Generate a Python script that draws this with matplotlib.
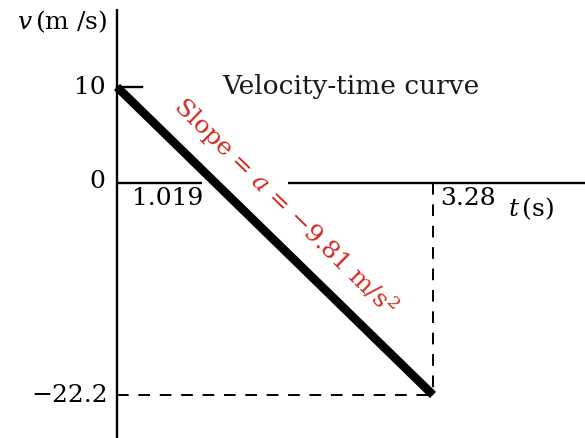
import numpy as np
import matplotlib
matplotlib.use("Agg")
import matplotlib.pyplot as plt

# Motion data: velocity falls linearly under gravity
t_points = [0.0, 3.28]
v_points = [10.0, -22.2]
t_zero = 1.019
accel = -9.81

plt.rcParams["font.family"] = ["DejaVu Serif"]
plt.rcParams["mathtext.fontset"] = "dejavuserif"

W, H = 585, 439
fig = plt.figure(figsize=(W / 100, H / 100), dpi=100)
ax = fig.add_axes([0, 0, 1, 1])
ax.set_xlim(-1.2145, 4.858)
ax.set_ylim(-26.70, 19.20)
ax.axis("off")

# pixel scale helpers (for keeping gaps/offsets in data units)
px_t = (4.858 + 1.2145) / W
px_v = (19.20 + 26.70) / H

# vertical axis
ax.plot([0, 0], [-26.70, 18.15], color="black", lw=1.7, solid_capstyle="butt")
# horizontal axis with gap where the label crosses
ax.plot([0, 0.88], [0, 0], color="black", lw=1.7, solid_capstyle="butt")
ax.plot([1.775, 4.858], [0, 0], color="black", lw=1.7, solid_capstyle="butt")
# tick at v = 10
ax.plot([0, 0.26], [v_points[0], v_points[0]], color="black", lw=1.7)

# dashed guides to the final point
ax.plot([t_points[1], t_points[1]], [0, v_points[1]], color="black", lw=1.4,
        dashes=(6, 5))
ax.plot([0, t_points[1]], [v_points[1], v_points[1]], color="black", lw=1.4,
        dashes=(6, 5))

# velocity-time line
ax.plot(t_points, v_points, color="black", lw=6.2, solid_capstyle="butt")

fs = 18
ax.text(-0.12, v_points[0], "10", ha="right", va="center", fontsize=fs)
ax.text(-0.12, 0.2, "0", ha="right", va="center", fontsize=fs)
ax.text(-0.09, v_points[1], "\u221222.2", ha="right", va="center", fontsize=fs)
ax.text(0.16, -0.3, f"{t_zero:.3f}", ha="left", va="top", fontsize=fs)
ax.text(t_points[1] + 0.07, -0.3, f"{t_points[1]:.2f}", ha="left", va="top",
        fontsize=fs)
ax.text(4.06, -1.2, "$t\\,$(s)", ha="left", va="top", fontsize=fs)
ax.text(-0.10, 16.9, "$v\\,$(m /s)", ha="right", va="center", fontsize=fs)
ax.text(1.09, 10.2, "Velocity-time curve", ha="left", va="center",
        fontsize=19, color="#1a1a1a")

# slope annotation parallel to the line
angle = np.degrees(np.arctan2((v_points[1] - v_points[0]) / px_v,
                              (t_points[1] - t_points[0]) / px_t))
ax.text(1.74, -2.45, f"Slope = $a$ = \u2212{abs(accel):.2f} m/s$^2$",
        ha="center", va="center", rotation=angle, rotation_mode="anchor",
        fontsize=fs, color="#d42a20")

fig.savefig("out.png", dpi=100)
